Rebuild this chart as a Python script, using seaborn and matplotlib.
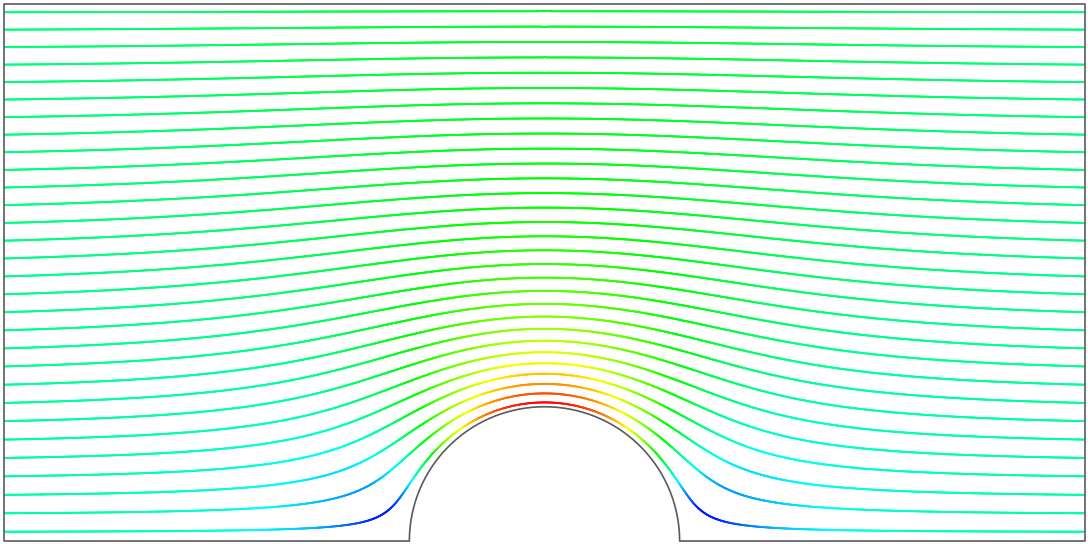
import matplotlib
matplotlib.use("Agg")
import matplotlib.pyplot as plt
import numpy as np
import seaborn as sns
from matplotlib.collections import LineCollection
from matplotlib.colors import Normalize

# Geometria del canal (unidades = radio del cilindro)
X_RANGE        = [-4.0, 4.0]
CHANNEL_HEIGHT = 4.0
CYL_RADIUS     = 1.0
U_INF          = 1.0
N_IMAGES       = 30   # dobletes imagen por cada lado (paredes del canal)

# Valores de la funcion de corriente que se dibujan
STREAM_LEVELS = [
    0.067, 0.200, 0.333, 0.467, 0.600, 0.733, 0.867, 1.000, 1.133, 1.267,
    1.400, 1.533, 1.667, 1.800, 1.933, 2.067, 2.200, 2.333, 2.467, 2.600,
    2.733, 2.867, 3.000, 3.133, 3.267, 3.400, 3.533, 3.667, 3.800, 3.933,
]

RAINBOW      = ["#0000ff", "#00ffff", "#00ff00", "#ffff00", "#ff0000"]
SPEED_LIMITS = [0.40, 2.05]
WALL_COLOR   = "#5a5a5a"


def doublet_strength() -> float:
    """Intensidad del doblete para que psi=0 pase por (0, R)."""
    n = np.arange(-N_IMAGES, N_IMAGES + 1)
    return U_INF * CYL_RADIUS / np.sum(1.0 / (CYL_RADIUS - 2 * n * CHANNEL_HEIGHT))


def flow(z: np.ndarray, kappa: float):
    """Potencial complejo W y velocidad compleja dW/dz (flujo potencial en canal)."""
    w = U_INF * z
    dw = np.full_like(z, U_INF)
    for n in range(-N_IMAGES, N_IMAGES + 1):
        dz = z - 2j * n * CHANNEL_HEIGHT
        w = w + kappa / dz
        dw = dw - kappa / dz**2
    return w, dw


sns.set_theme(style="white")
cmap = sns.blend_palette(RAINBOW, as_cmap=True)
kappa = doublet_strength()

x = np.linspace(X_RANGE[0], X_RANGE[1], 1201)
y = np.linspace(0.0, CHANNEL_HEIGHT, 601)
X, Y = np.meshgrid(x, y)
Z = X + 1j * Y
W, _ = flow(Z, kappa)
psi = W.imag
psi[np.abs(Z) < CYL_RADIUS] = np.nan

fig = plt.figure(figsize=(10.88, 5.44), dpi=100)
ax = fig.add_axes([4 / 1088, 3 / 544, 1081 / 1088, 537 / 544])

cs = ax.contour(X, Y, psi, levels=STREAM_LEVELS)
segments, speeds = [], []
for level_segs in cs.allsegs:
    for pts in level_segs:
        if len(pts) < 2:
            continue
        mid = 0.5 * (pts[:-1] + pts[1:])
        _, dw = flow(mid[:, 0] + 1j * mid[:, 1], kappa)
        segments.extend(np.stack([pts[:-1], pts[1:]], axis=1))
        speeds.extend(np.abs(dw))
cs.remove()

lc = LineCollection(segments, cmap=cmap, norm=Normalize(*SPEED_LIMITS),
                    linewidths=1.4, capstyle="round")
lc.set_array(np.asarray(speeds))
ax.add_collection(lc)

# Contorno del dominio: paredes del canal + cilindro
ax.plot([-CYL_RADIUS, X_RANGE[0], X_RANGE[0], X_RANGE[1], X_RANGE[1], CYL_RADIUS],
        [0, 0, CHANNEL_HEIGHT, CHANNEL_HEIGHT, 0, 0],
        color=WALL_COLOR, lw=1.2, clip_on=False)
theta = np.linspace(0, np.pi, 200)
ax.plot(CYL_RADIUS * np.cos(theta), CYL_RADIUS * np.sin(theta),
        color=WALL_COLOR, lw=1.2, clip_on=False)

ax.set_xlim(X_RANGE)
ax.set_ylim(0, CHANNEL_HEIGHT)
ax.axis("off")

fig.savefig("out.png", dpi=100)
plt.close(fig)
print(f"kappa={kappa:.4f}, speed min={min(speeds):.3f}, max={max(speeds):.3f}")
